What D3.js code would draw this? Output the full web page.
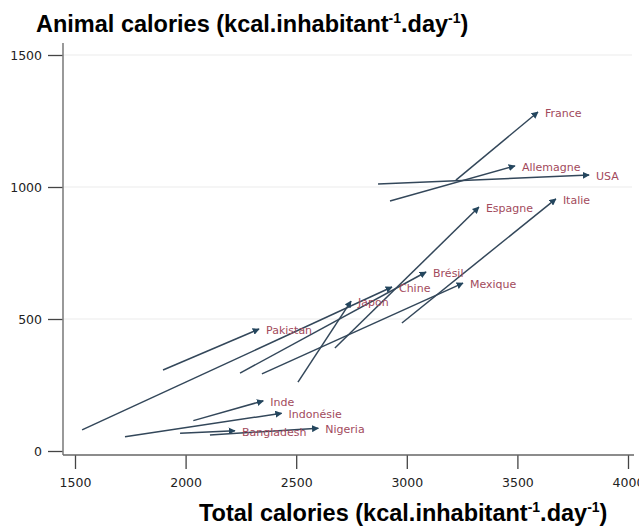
<!DOCTYPE html>
<html>
<head>
<meta charset="utf-8">
<script src="https://cdn.jsdelivr.net/npm/d3@7"></script>
<style>
  body { margin: 0; background: #fff; }
  .tick text { font-family: "DejaVu Sans", sans-serif; font-size: 12.5px; fill: #222; }
  .title { font-family: "Liberation Sans", Arial, sans-serif; font-weight: bold; font-size: 23.5px; fill: #000; }
  .lbl { font-family: "DejaVu Sans", sans-serif; font-size: 11px; fill: #a24a5c; }
</style>
</head>
<body>
<div class="container"></div>
<script>
// countries and their two states (start of the arrow, then the tip)
const countries = ["France", "Allemagne", "USA", "Espagne", "Italie", "Brésil", "Chine",
  "Japon", "Mexique", "Pakistan", "Inde", "Indonésie", "Bangladesh", "Nigeria"];
const totalStart = [3222, 2924, 2870, 2675, 2978, 2246, 1532, 2508, 2345, 1898, 2035, 1726, 1975, 2110];
const animalStart = [1026, 947, 1011, 390, 485, 295, 80, 261, 292, 307, 115, 54, 67, 61];
const totalEnd = [3593, 3489, 3824, 3326, 3674, 3087, 2933, 2748, 3254, 2332, 2351, 2434, 2223, 2600];
const animalEnd = [1284, 1080, 1045, 924, 955, 678, 621, 568, 636, 462, 190, 143, 77, 86];

const xTicks = [1500, 2000, 2500, 3000, 3500, 4000];
const yTicks = [0, 500, 1000, 1500];

const width = 639;
const height = 528;

const rows = countries.map((name, i) => ({
  name: name,
  x0: totalStart[i],
  y0: animalStart[i],
  x1: totalEnd[i],
  y1: animalEnd[i],
}));

const svg = d3.select(".container")
  .append("svg")
  .attr("width", width)
  .attr("height", height);

const x = d3.scaleLinear().domain([1500, 4000]).range([75, 628]);
const y = d3.scaleLinear().domain([0, 1500]).range([451, 55]);

const axisX = 63;   // where the y axis sits
const axisY = 455;  // where the x axis sits

// light horizontal grid
svg.append("g")
  .selectAll("line")
  .data(yTicks.slice(1))
  .enter()
  .append("line")
  .attr("x1", axisX)
  .attr("x2", 632)
  .attr("y1", (d) => y(d))
  .attr("y2", (d) => y(d))
  .attr("stroke", "#ececec")
  .attr("stroke-width", 1.2);

// y axis
const gy = svg.append("g")
  .attr("transform", `translate(${axisX},0)`)
  .call(d3.axisLeft(y).tickValues(yTicks).tickSize(15).tickPadding(6).tickFormat(d3.format("d")));
gy.select(".domain").remove();
gy.selectAll(".tick line").attr("stroke", "#444").attr("stroke-width", 1.3);
svg.append("line")
  .attr("x1", axisX).attr("x2", axisX)
  .attr("y1", 43).attr("y2", axisY)
  .attr("stroke", "#808080").attr("stroke-width", 1.6);

// x axis
const gx = svg.append("g")
  .attr("transform", `translate(0,${axisY})`)
  .call(d3.axisBottom(x).tickValues(xTicks).tickSize(14).tickPadding(9).tickFormat(d3.format("d")));
gx.select(".domain").remove();
gx.selectAll(".tick line").attr("stroke", "#444").attr("stroke-width", 1.3);
svg.append("line")
  .attr("x1", axisX).attr("x2", 634)
  .attr("y1", axisY).attr("y2", axisY)
  .attr("stroke", "#666").attr("stroke-width", 1.6);

// arrow head
svg.append("defs")
  .append("marker")
  .attr("id", "head")
  .attr("viewBox", "0 0 10 10")
  .attr("refX", 9)
  .attr("refY", 5)
  .attr("markerWidth", 7)
  .attr("markerHeight", 7)
  .attr("markerUnits", "userSpaceOnUse")
  .attr("orient", "auto")
  .append("path")
  .attr("d", "M0,0 L10,5 L0,10 z")
  .attr("fill", "#24465e");

svg.append("g")
  .selectAll("line")
  .data(rows)
  .enter()
  .append("line")
  .attr("x1", (d) => x(d.x0))
  .attr("y1", (d) => y(d.y0))
  .attr("x2", (d) => x(d.x1))
  .attr("y2", (d) => y(d.y1))
  .attr("stroke", "#33475a")
  .attr("stroke-width", 1.5)
  .attr("marker-end", "url(#head)");

// country names next to the tips
svg.append("g")
  .selectAll("text")
  .data(rows)
  .enter()
  .append("text")
  .attr("class", "lbl")
  .attr("x", (d) => x(d.x1) + 7)
  .attr("y", (d) => y(d.y1) + 5)
  .text((d) => d.name);

// titles with superscripts
function title(tx, ty, lead) {
  const t = svg.append("text").attr("class", "title").attr("x", tx).attr("y", ty);
  t.append("tspan").text(lead + " (kcal.inhabitant");
  t.append("tspan").attr("dy", -9).style("font-size", "14px").text("-1");
  t.append("tspan").attr("dy", 9).text(".day");
  t.append("tspan").attr("dy", -9).style("font-size", "14px").text("-1");
  t.append("tspan").attr("dy", 9).text(")");
}
title(36, 32, "Animal calories");
title(199, 521, "Total calories");
</script>
</body>
</html>
